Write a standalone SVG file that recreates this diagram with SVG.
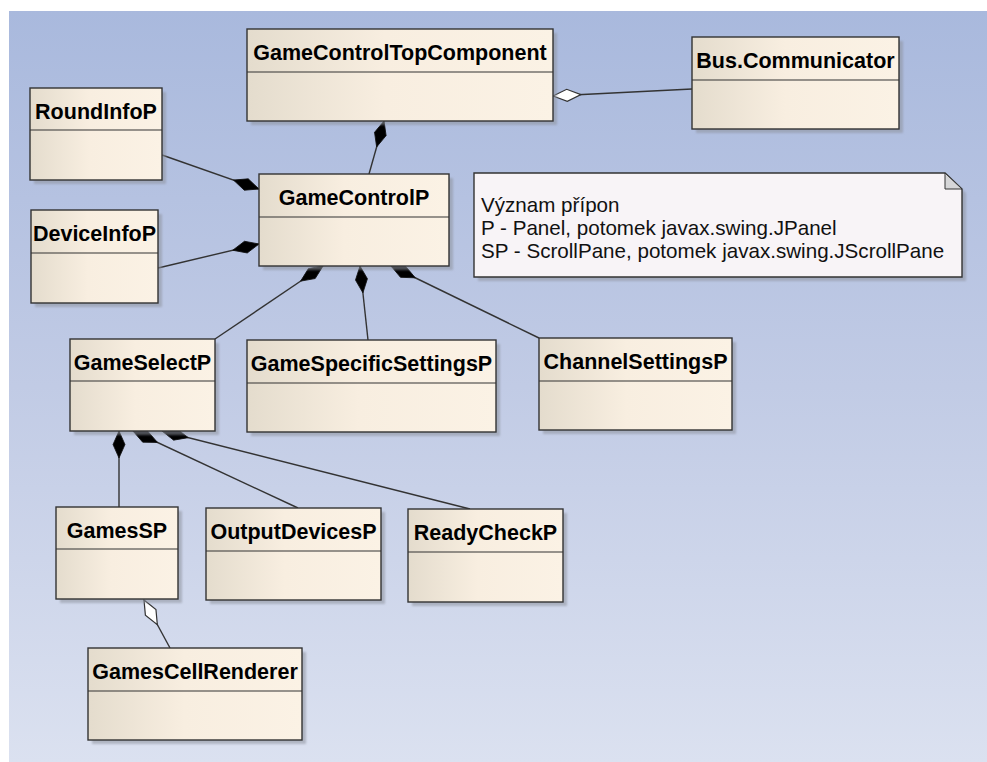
<svg xmlns="http://www.w3.org/2000/svg" width="987" height="762" viewBox="0 0 987 762">
  <defs>
    <linearGradient id="bg" x1="0" y1="0" x2="0" y2="1">
      <stop offset="0" stop-color="#a9b9dd"/>
      <stop offset="0.5" stop-color="#c1cbe5"/>
      <stop offset="1" stop-color="#dbe1f0"/>
    </linearGradient>
    <linearGradient id="cls" x1="0" y1="0" x2="1" y2="0">
      <stop offset="0" stop-color="#e4dccd"/>
      <stop offset="0.45" stop-color="#f8eee0"/>
      <stop offset="1" stop-color="#fbf2e5"/>
    </linearGradient>
    <filter id="soft" x="-10%" y="-10%" width="130%" height="130%">
      <feGaussianBlur stdDeviation="1.2"/>
    </filter>
    <marker id="comp" markerUnits="userSpaceOnUse" orient="auto" refX="0" refY="0" markerWidth="30" markerHeight="14" overflow="visible">
      <path d="M0,0 L13.5,-6 L27,0 L13.5,6 Z" fill="#000" stroke="#111" stroke-width="0.8"/>
    </marker>
    <marker id="aggr" markerUnits="userSpaceOnUse" orient="auto" refX="0" refY="0" markerWidth="30" markerHeight="14" overflow="visible">
      <path d="M0,0 L14,-6 L28,0 L14,6 Z" fill="#fff" stroke="#333" stroke-width="1.2"/>
    </marker>
  </defs>
  <style>
    .shadow { fill: #8e939e; opacity: 0.55; filter: url(#soft); }
    .box { fill: url(#cls); stroke: #333; stroke-width: 1.4; }
    .sep { stroke: #333; stroke-width: 1.2; }
    .title { font-family: "Liberation Sans", Arial, sans-serif; font-weight: bold; font-size: 21.5px; fill: #000; text-anchor: middle; }
    .note { fill: #f8f4f7; stroke: #333; stroke-width: 1.4; }
    .notetext { font-family: "Liberation Sans", Arial, sans-serif; font-size: 20.6px; fill: #111; }
    .conn line, .conn path { stroke: #333; stroke-width: 1.4; fill: none; }
    .whole { marker-start: url(#comp); }
    .shared { marker-start: url(#aggr); }
  </style>

  <!-- canvas -->
  <rect x="0" y="0" width="987" height="762" fill="#fff"/>
  <rect x="9" y="11" width="978" height="751" fill="url(#bg)"/>

  <!-- associations -->
  <g id="connectors" class="conn">
    <path class="whole" d="M384,121 L369,174"/>
    <path class="shared" d="M553,96 L692,89"/>
    <path class="whole" d="M259,189 L162,155"/>
    <path class="whole" d="M259,244 L158,268"/>
    <path class="whole" d="M323,266 L215,339"/>
    <path class="whole" d="M360,266 L368,340"/>
    <path class="whole" d="M391,266 L539,338"/>
    <path class="whole" d="M119,431 L119,507"/>
    <path class="whole" d="M133,431 L298,508"/>
    <path class="whole" d="M162,431 L470,509"/>
    <path class="shared" d="M144,600 L170,648"/>
  </g>

  <g id="GameControlTopComponent">
    <rect class="shadow" x="251" y="33" width="306" height="92"/>
    <rect class="box" x="247" y="29" width="306" height="92"/>
    <line class="sep" x1="247" y1="72" x2="553" y2="72"/>
    <text class="title" x="400" y="60">GameControlTopComponent</text>
  </g>

  <g id="BusCommunicator">
    <rect class="shadow" x="696" y="41" width="207" height="92"/>
    <rect class="box" x="692" y="37" width="207" height="92"/>
    <line class="sep" x1="692" y1="80" x2="899" y2="80"/>
    <text class="title" x="795.5" y="68">Bus.Communicator</text>
  </g>

  <g id="RoundInfoP">
    <rect class="shadow" x="34" y="92" width="132" height="92"/>
    <rect class="box" x="30" y="88" width="132" height="92"/>
    <line class="sep" x1="30" y1="130" x2="162" y2="130"/>
    <text class="title" x="96" y="119">RoundInfoP</text>
  </g>

  <g id="GameControlP">
    <rect class="shadow" x="263" y="178" width="190" height="92"/>
    <rect class="box" x="259" y="174" width="190" height="92"/>
    <line class="sep" x1="259" y1="217" x2="449" y2="217"/>
    <text class="title" x="354" y="205">GameControlP</text>
  </g>

  <g id="DeviceInfoP">
    <rect class="shadow" x="35" y="214" width="127" height="93"/>
    <rect class="box" x="31" y="210" width="127" height="93"/>
    <line class="sep" x1="31" y1="253" x2="158" y2="253"/>
    <text class="title" x="94.5" y="241">DeviceInfoP</text>
  </g>

  <g id="legend">
    <path class="shadow" d="M478,177 H949 L966,193 V281 H478 Z"/>
    <path class="note" d="M474,173 H945 L962,189 V277 H474 Z"/>
    <path d="M945,173 L945,189 L962,189 Z" fill="#d6d6d8" stroke="#333" stroke-width="1"/>
    <text class="notetext" x="481" y="212">Význam přípon</text>
    <text class="notetext" x="481" y="235">P - Panel, potomek javax.swing.JPanel</text>
    <text class="notetext" x="481" y="258">SP - ScrollPane, potomek javax.swing.JScrollPane</text>
  </g>

  <g id="GameSelectP">
    <rect class="shadow" x="74" y="343" width="145" height="92"/>
    <rect class="box" x="70" y="339" width="145" height="92"/>
    <line class="sep" x1="70" y1="381" x2="215" y2="381"/>
    <text class="title" x="142.5" y="370">GameSelectP</text>
  </g>

  <g id="GameSpecificSettingsP">
    <rect class="shadow" x="251" y="344" width="249" height="92"/>
    <rect class="box" x="247" y="340" width="249" height="92"/>
    <line class="sep" x1="247" y1="383" x2="496" y2="383"/>
    <text class="title" x="371.5" y="371">GameSpecificSettingsP</text>
  </g>

  <g id="ChannelSettingsP">
    <rect class="shadow" x="543" y="342" width="193" height="92"/>
    <rect class="box" x="539" y="338" width="193" height="92"/>
    <line class="sep" x1="539" y1="381" x2="732" y2="381"/>
    <text class="title" x="635.5" y="369">ChannelSettingsP</text>
  </g>

  <g id="GamesSP">
    <rect class="shadow" x="60" y="511" width="122" height="92"/>
    <rect class="box" x="56" y="507" width="122" height="92"/>
    <line class="sep" x1="56" y1="549" x2="178" y2="549"/>
    <text class="title" x="117" y="538">GamesSP</text>
  </g>

  <g id="OutputDevicesP">
    <rect class="shadow" x="210" y="512" width="175" height="92"/>
    <rect class="box" x="206" y="508" width="175" height="92"/>
    <line class="sep" x1="206" y1="551" x2="381" y2="551"/>
    <text class="title" x="293.5" y="539">OutputDevicesP</text>
  </g>

  <g id="ReadyCheckP">
    <rect class="shadow" x="412" y="513" width="155" height="93"/>
    <rect class="box" x="408" y="509" width="155" height="93"/>
    <line class="sep" x1="408" y1="552" x2="563" y2="552"/>
    <text class="title" x="485.5" y="540">ReadyCheckP</text>
  </g>

  <g id="GamesCellRenderer">
    <rect class="shadow" x="92" y="652" width="214" height="92"/>
    <rect class="box" x="88" y="648" width="214" height="92"/>
    <line class="sep" x1="88" y1="691" x2="302" y2="691"/>
    <text class="title" x="195" y="679">GamesCellRenderer</text>
  </g>
</svg>
